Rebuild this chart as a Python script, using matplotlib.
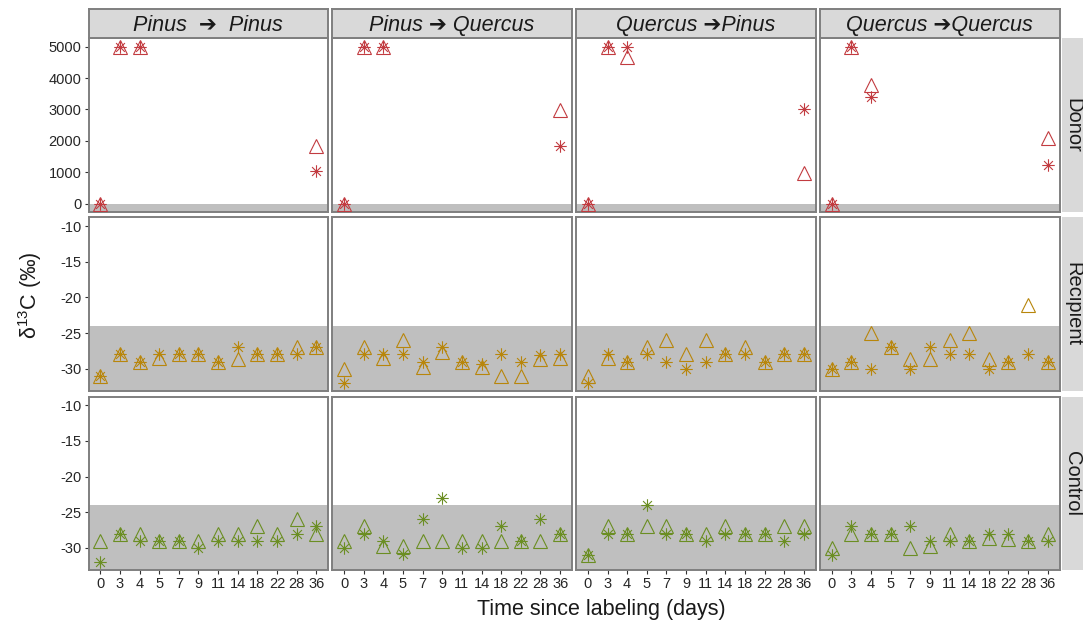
import numpy as np
import matplotlib
matplotlib.use('Agg')
import matplotlib.pyplot as plt
from matplotlib.path import Path
from matplotlib.patches import Rectangle

plt.rcParams['font.family'] = ['Liberation Sans', 'DejaVu Sans']

days = ['0', '3', '4', '5', '7', '9', '11', '14', '18', '22', '28', '36']
pairs = ['Pinus  ➔  Pinus', 'Pinus ➔ Quercus', 'Quercus ➔Pinus', 'Quercus ➔Quercus']
rows = ['Donor', 'Recipient', 'Control']
nan = np.nan

# donor trees: only sampled on days 0, 3, 4 and 36
donor_tri = [
    [-30, 5000, 5000, nan, nan, nan, nan, nan, nan, nan, nan, 1820],
    [-30, 5000, 5000, nan, nan, nan, nan, nan, nan, nan, nan, 2980],
    [-30, 5000, 4680, nan, nan, nan, nan, nan, nan, nan, nan, 975],
    [-30, 5000, 3780, nan, nan, nan, nan, nan, nan, nan, nan, 2090],
]
donor_star = [
    [-30, 5000, 5000, nan, nan, nan, nan, nan, nan, nan, nan, 1050],
    [-30, 5000, 5000, nan, nan, nan, nan, nan, nan, nan, nan, 1840],
    [-30, 5000, 5000, nan, nan, nan, nan, nan, nan, nan, nan, 3020],
    [-30, 5000, 3410, nan, nan, nan, nan, nan, nan, nan, nan, 1240],
]
recip_tri = [
    [-31, -28, -29, -28.5, -28, -28, -29, -28.7, -28, -28, -27, -27],
    [-30, -27, -28.5, -26, -29.8, -27.7, -29, -29.8, -31, -31, -28.6, -28.5],
    [-31, -28.5, -29, -27, -26, -28, -26, -28, -27, -29, -28, -28],
    [-30, -29, -25, -27, -28.6, -28.7, -26, -25, -28.6, -29, -21, -29],
]
recip_star = [
    [-31, -28, -29, -28, -28, -28, -29, -27, -28, -28, -28, -27],
    [-32, -28, -28, -28, -29, -27, -29, -29.3, -28, -29, -28.1, -28],
    [-32, -28, -29, -28, -29, -30, -29, -28, -28, -29, -28, -28],
    [-30, -29, -30, -27, -30, -27, -28, -28, -30, -29, -28, -29],
]
control_tri = [
    [-29, -28, -28, -29, -29, -29, -28, -28, -27, -28, -26, -28],
    [-29, -27, -29.7, -29.7, -29, -29, -29, -29, -29, -29, -29, -28],
    [-31, -27, -28, -27, -27, -28, -28, -27, -28, -28, -27, -27],
    [-30, -28, -28, -28, -30, -29.7, -28, -29, -28.6, -28.8, -29, -28],
]
control_star = [
    [-32, -28, -29, -29, -29, -30, -29, -29, -29, -29, -28, -27],
    [-30, -28, -29, -30.8, -26, -23, -30, -30, -27, -29, -26, -28],
    [-31, -28, -28, -24, -28, -28, -29, -28, -28, -28, -29, -28],
    [-31, -27, -28, -28, -27, -29, -29, -29, -28, -28, -29, -29],
]

row_data = [(donor_tri, donor_star), (recip_tri, recip_star), (control_tri, control_star)]
row_colors = ['#C23B40', '#B8860B', '#6B8E23']
row_ylim = [(-260, 5265), (-33.1, -8.8), (-33.1, -8.8)]
row_yticks = [[0, 1000, 2000, 3000, 4000, 5000], [-10, -15, -20, -25, -30], [-10, -15, -20, -25, -30]]

# eight-spoke asterisk like R's pch 8
d = 0.5 / np.sqrt(2)
star = Path([(-0.5, 0), (0.5, 0), (0, -0.5), (0, 0.5), (-d, -d), (d, d), (-d, d), (d, -d)],
            [Path.MOVETO, Path.LINETO] * 4)

W, H = 1083, 626
fig = plt.figure(figsize=(W / 100, H / 100), dpi=100)

left, right = 88.5, 1059.5
top, bottom = 38.3, 570.0
pw, gx = 239.6, (right - left - 4 * 239.6) / 3
ph, gy = 173.4, (bottom - top - 3 * 173.4) / 2
edge = '#7F7F7F'
strip_fill = '#D9D9D9'
band = '#BFBFBF'

x = np.arange(len(days))
for r in range(3):
    for c in range(4):
        x0 = left + c * (pw + gx)
        y0 = top + r * (ph + gy)
        ax = fig.add_axes([x0 / W, 1 - (y0 + ph) / H, pw / W, ph / H])
        ax.axhspan(-1e4, -24, color=band, lw=0, zorder=0)
        tri, st = row_data[r]
        col = row_colors[r]
        ax.plot(x, tri[c], ls='none', marker='^', ms=9.5, mfc='none', mec=col, mew=0.8, zorder=3)
        ax.plot(x, st[c], ls='none', marker=star, ms=9, mec=col, mew=0.8, zorder=3)
        ax.set_xlim(-0.6, len(days) - 0.4)
        ax.set_ylim(*row_ylim[r])
        ax.set_xticks(x)
        ax.set_yticks(row_yticks[r])
        ax.tick_params(length=3, width=0.8, color='#333333', labelcolor='#262626',
                       labelsize=10.5, pad=2)
        if c == 0:
            ax.set_yticklabels([str(t) for t in row_yticks[r]])
        else:
            ax.set_yticklabels([])
            ax.tick_params(axis='y', length=0)
        if r == 2:
            ax.set_xticklabels(days, fontsize=10.5)
        else:
            ax.set_xticklabels([])
            ax.tick_params(axis='x', length=0)
        for s in ax.spines.values():
            s.set_color(edge)
            s.set_linewidth(1.4)

        if r == 0:
            sa = fig.add_axes([x0 / W, 1 - top / H, pw / W, 29 / H])
            sa.set_facecolor(strip_fill)
            sa.set_xticks([])
            sa.set_yticks([])
            for s in sa.spines.values():
                s.set_color(edge)
                s.set_linewidth(1.4)
            sa.text(0.5, 0.45, pairs[c], ha='center', va='center', fontsize=15.5,
                    style='italic', color='#1A1A1A', transform=sa.transAxes)
        if c == 3:
            fig.patches.append(Rectangle(((right + 2) / W, 1 - (y0 + ph) / H), (W - right - 2) / W, ph / H,
                                         transform=fig.transFigure, facecolor=strip_fill,
                                         edgecolor='none'))
            fig.text((right + 13) / W, 1 - (y0 + ph / 2) / H, rows[r], rotation=-90,
                     ha='center', va='center', fontsize=14.5, color='#1A1A1A')

fig.text(601 / W, 1 - 615 / H, 'Time since labeling (days)', ha='center', va='baseline',
         fontsize=15.5, color='#1A1A1A')
fig.text(30 / W, 1 - 295 / H, r'$\mathregular{\delta^{13}}$C (‰)', rotation=90,
         ha='center', va='center', fontsize=15.5, color='#1A1A1A')

fig.savefig('out.png', dpi=100)
